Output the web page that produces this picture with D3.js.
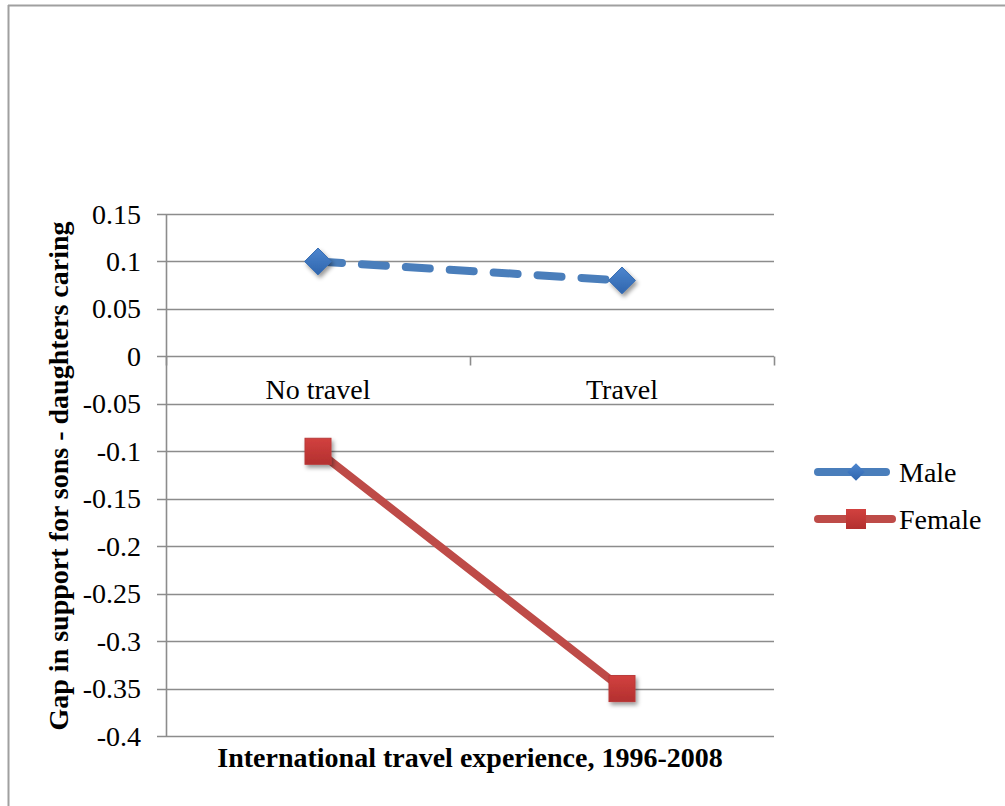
<!DOCTYPE html>
<html>
<head>
<meta charset="utf-8">
<script src="https://cdn.jsdelivr.net/npm/d3@7"></script>
<style>
  html, body { margin: 0; padding: 0; background: #fff; }
  svg { display: block; }
  text { font-family: "Liberation Serif", "Times New Roman", serif; fill: #000; }
</style>
</head>
<body>
<svg id="chart" width="1005" height="806"></svg>
<script>
// Chart data
const categories = ["No travel", "Travel"];
const maleValues = [0.1, 0.08];
const femaleValues = [-0.1, -0.35];
const yTicks = [0.15, 0.1, 0.05, 0, -0.05, -0.1, -0.15, -0.2, -0.25, -0.3, -0.35, -0.4];
const seriesNames = ["Male", "Female"];
const yTitle = "Gap in support for sons - daughters caring";
const xTitle = "International travel experience, 1996-2008";

const FONT = "'Liberation Serif', 'Times New Roman', serif";
const svg = d3.select("#chart");

// Outer frame (left and top edges)
svg.append("line").attr("x1", 8.5).attr("x2", 8.5).attr("y1", 5).attr("y2", 806)
  .attr("stroke", "#a0a0a0").attr("stroke-width", 2);
svg.append("line").attr("x1", 8).attr("x2", 1005).attr("y1", 5.5).attr("y2", 5.5)
  .attr("stroke", "#a0a0a0").attr("stroke-width", 2);

// Shadow filter and gradients for markers
const defs = svg.append("defs");
const f = defs.append("filter").attr("id", "shadow")
  .attr("x", "-50%").attr("y", "-50%").attr("width", "200%").attr("height", "200%");
f.append("feDropShadow").attr("dx", 2).attr("dy", 3).attr("stdDeviation", 2)
  .attr("flood-color", "#000").attr("flood-opacity", 0.4);
const gb = defs.append("linearGradient").attr("id", "gBlue").attr("x1", 0).attr("y1", 0).attr("x2", 0).attr("y2", 1);
gb.append("stop").attr("offset", "0%").attr("stop-color", "#4d86cf");
gb.append("stop").attr("offset", "100%").attr("stop-color", "#2f65ad");
const gr = defs.append("linearGradient").attr("id", "gRed").attr("x1", 0).attr("y1", 0).attr("x2", 0).attr("y2", 1);
gr.append("stop").attr("offset", "0%").attr("stop-color", "#d2413f");
gr.append("stop").attr("offset", "100%").attr("stop-color", "#b3302f");

// Scales
const plot = { left: 166, right: 774, top: 214, bottom: 736 };
const x = d3.scaleBand().domain(categories).range([plot.left, plot.right]);
const y = d3.scaleLinear().domain([-0.4, 0.15]).range([plot.bottom, plot.top]);

// Horizontal gridlines with left tick marks
svg.append("g").selectAll("line").data(yTicks).join("line")
  .attr("x1", plot.left - 9).attr("x2", plot.right)
  .attr("y1", d => Math.round(y(d)) + 0.5).attr("y2", d => Math.round(y(d)) + 0.5)
  .attr("stroke", "#8c8c8c").attr("stroke-width", 1.6);

// Value axis line
svg.append("line").attr("x1", plot.left + 0.5).attr("x2", plot.left + 0.5)
  .attr("y1", plot.top).attr("y2", plot.bottom + 0.5)
  .attr("stroke", "#8c8c8c").attr("stroke-width", 1.6);

// Y tick labels (plain hyphen for negatives)
const fmt = d => String(d).replace("\u2212", "-");
svg.append("g").selectAll("text").data(yTicks).join("text")
  .attr("x", 141).attr("y", d => y(d) + 9.5)
  .attr("text-anchor", "end").attr("font-size", 28).attr("font-family", FONT)
  .text(fmt);

// Category axis at zero: tick marks pointing down at band edges
const y0 = Math.round(y(0)) + 0.5;
const edges = [plot.left, ...categories.map(c => x(c) + x.bandwidth())];
svg.append("g").selectAll("line").data(edges).join("line")
  .attr("x1", d => d + 0.5).attr("x2", d => d + 0.5)
  .attr("y1", y0).attr("y2", y0 + 9)
  .attr("stroke", "#8c8c8c").attr("stroke-width", 1.6);

// Category labels
svg.append("g").selectAll("text").data(categories).join("text")
  .attr("x", d => x(d) + x.bandwidth() / 2).attr("y", y0 + 42)
  .attr("text-anchor", "middle").attr("font-size", 28).attr("font-family", FONT)
  .text(d => d);

const cx = c => x(c) + x.bandwidth() / 2;
const line = d3.line().x(d => cx(d.c)).y(d => y(d.v));

// Female series
const femaleData = categories.map((c, i) => ({ c, v: femaleValues[i] }));
svg.append("path").datum(femaleData).attr("d", line)
  .attr("fill", "none").attr("stroke", "#be4b48").attr("stroke-width", 8)
  .attr("stroke-linecap", "round");
svg.append("g").selectAll("rect").data(femaleData).join("rect")
  .attr("x", d => cx(d.c) - 13).attr("y", d => y(d.v) - 13)
  .attr("width", 26).attr("height", 26)
  .attr("fill", "url(#gRed)").attr("stroke", "#b83a38").attr("stroke-width", 1)
  .attr("filter", "url(#shadow)");

// Male series
const maleData = categories.map((c, i) => ({ c, v: maleValues[i] }));
svg.append("path").datum(maleData).attr("d", line)
  .attr("fill", "none").attr("stroke", "#4a7ebb").attr("stroke-width", 8)
  .attr("stroke-linecap", "round").attr("stroke-dasharray", "24,20");
const diamond = d3.symbol().type(d3.symbolDiamond2).size(460);
svg.append("g").selectAll("path").data(maleData).join("path")
  .attr("transform", d => `translate(${cx(d.c)},${y(d.v)})`)
  .attr("d", diamond)
  .attr("fill", "url(#gBlue)").attr("stroke", "#3a6fb3").attr("stroke-width", 1)
  .attr("filter", "url(#shadow)");

// Legend
const legend = svg.append("g");
const legendRows = [
  { name: seriesNames[0], yy: 472, color: "#4a7ebb", marker: "diamond" },
  { name: seriesNames[1], yy: 519, color: "#be4b48", marker: "square" }
];
legendRows.forEach(r => {
  legend.append("line").attr("x1", 818).attr("x2", r.marker === "square" ? 892 : 886)
    .attr("y1", r.yy).attr("y2", r.yy)
    .attr("stroke", r.color).attr("stroke-width", 8).attr("stroke-linecap", "round");
  if (r.marker === "diamond") {
    legend.append("path").attr("transform", `translate(856,${r.yy})`)
      .attr("d", d3.symbol().type(d3.symbolDiamond2).size(200))
      .attr("fill", "url(#gBlue)");
  } else {
    legend.append("rect").attr("x", 846).attr("y", r.yy - 10).attr("width", 20).attr("height", 20)
      .attr("fill", "url(#gRed)");
  }
  legend.append("text").attr("x", 899).attr("y", r.yy + 10).attr("font-size", 28)
    .attr("font-family", FONT).text(r.name);
});

// Axis titles
svg.append("text").attr("x", 470).attr("y", 767)
  .attr("text-anchor", "middle").attr("font-size", 28).attr("font-weight", "bold")
  .attr("font-family", FONT).text(xTitle);
svg.append("text").attr("transform", "translate(68,476) rotate(-90)")
  .attr("text-anchor", "middle").attr("font-size", 28).attr("font-weight", "bold")
  .attr("font-family", FONT).text(yTitle);
</script>
</body>
</html>
